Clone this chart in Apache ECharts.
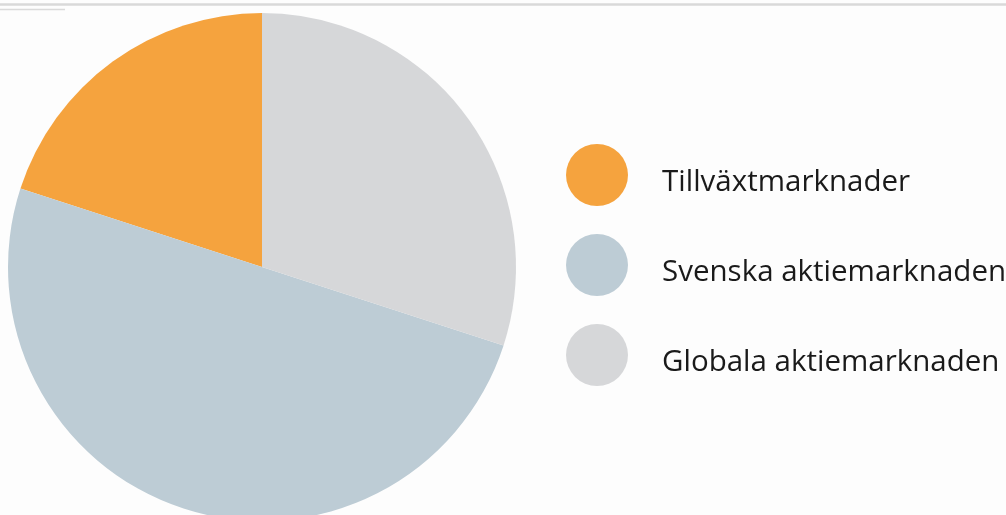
<!DOCTYPE html>
<html>
<head>
<meta charset="utf-8">
<script src="https://cdn.jsdelivr.net/npm/echarts@6/dist/echarts.min.js"></script>
<style>
  html, body { margin: 0; padding: 0; background: #fdfdfd; }
  #chart { width: 1006px; height: 515px; }
</style>
</head>
<body>
<div id="chart"></div>
<script>
// andelar i procent
const categories = ['Tillväxtmarknader', 'Svenska aktiemarknaden', 'Globala aktiemarknaden'];
const shares = [20, 50, 30];
const colors = ['#F5A33E', '#BDCCD5', '#D6D7D9'];

const chart = echarts.init(document.getElementById('chart'));

const pieData = categories.map((name, i) => {
  return { name: name, value: shares[i] };
});

const option = {
  backgroundColor: '#fdfdfd',
  color: colors,
  animation: false,
  legend: {
    orient: 'vertical',
    left: 561,
    top: 139,
    icon: 'circle',
    itemWidth: 62,
    itemHeight: 62,
    itemGap: 28,
    data: categories,
    formatter: '{t|{name}}',
    textStyle: {
      fontFamily: 'Open Sans',
      fontSize: 29.5,
      color: '#1a1a1a',
      rich: {
        // lite lägre text än cirkelns mitt
        t: {
          fontFamily: 'Open Sans',
          fontSize: 29.5,
          color: '#1a1a1a',
          padding: [16, 0, 0, 29],
        },
      },
    },
  },
  graphic: [
    {
      type: 'line',
      shape: { x1: 0, y1: 4.5, x2: 1006, y2: 4.5 },
      style: { stroke: '#d9d9d9', lineWidth: 2.5 },
    },
    {
      type: 'line',
      shape: { x1: 0, y1: 9.5, x2: 65, y2: 9.5 },
      style: { stroke: '#dadada', lineWidth: 1.5 },
    },
  ],
  series: [
    {
      type: 'pie',
      center: [262, 267],
      radius: 254,
      startAngle: 90,
      clockwise: false,
      label: { show: false },
      labelLine: { show: false },
      emphasis: { disabled: true },
      itemStyle: { borderWidth: 0 },
      data: pieData,
    },
  ],
};

chart.setOption(option);
</script>
</body>
</html>
